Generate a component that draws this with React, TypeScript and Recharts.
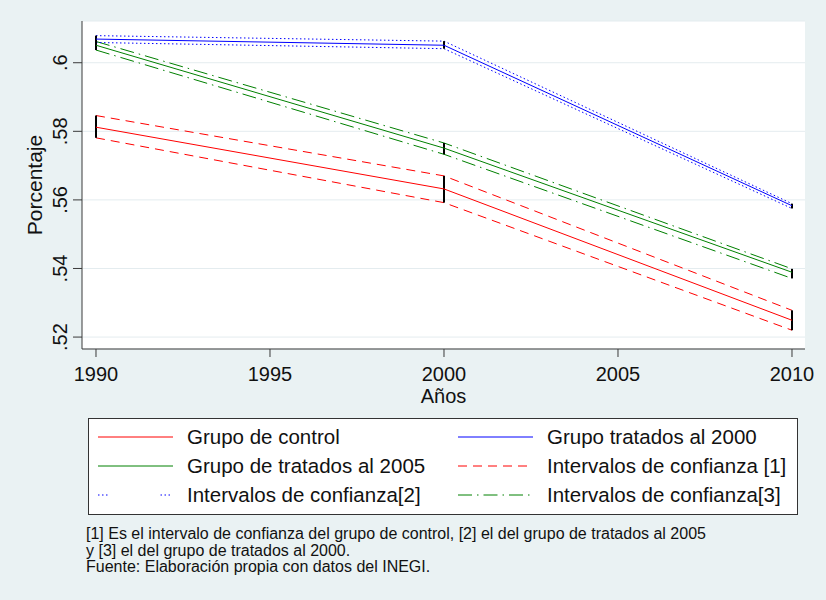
import React from "react";
import { LineChart, Line, XAxis, YAxis, CartesianGrid, ErrorBar } from "recharts";

// valores (3 puntos por serie)
const years = [1990, 2000, 2010];
const control = [0.5812, 0.5632, 0.5249];
const controlLo = [0.5781, 0.5592, 0.522];
const controlHi = [0.5846, 0.567, 0.5278];
const treated2000 = [0.6069, 0.6051, 0.5583];
const treated2000Lo = [0.6059, 0.6041, 0.5575];
const treated2000Hi = [0.6079, 0.6063, 0.5589];
const treated2005 = [0.6051, 0.5751, 0.5389];
const treated2005Lo = [0.6037, 0.5733, 0.5371];
const treated2005Hi = [0.6062, 0.5766, 0.5399];

const xTicks = [1990, 1995, 2000, 2005, 2010];
const yTicks = [0.52, 0.54, 0.56, 0.58, 0.6];

const footnote = [
  "[1] Es el intervalo de confianza del grupo de control, [2] el del grupo de tratados al 2005",
  "y [3] el del grupo de tratados al 2000.",
  "Fuente: Elaboración propia con datos del INEGI.",
];

const RED = "#ff0000";
const BLUE = "#0000ff";
const GREEN = "#008000";
const FONT = "'Liberation Sans', Arial, sans-serif";

const data = years.map((year, i) => ({
  year,
  control: control[i],
  controlLo: controlLo[i],
  controlHi: controlHi[i],
  controlErr: [control[i] - controlLo[i], controlHi[i] - control[i]],
  t2000: treated2000[i],
  t2000Lo: treated2000Lo[i],
  t2000Hi: treated2000Hi[i],
  t2000Err: [treated2000[i] - treated2000Lo[i], treated2000Hi[i] - treated2000[i]],
  t2005: treated2005[i],
  t2005Lo: treated2005Lo[i],
  t2005Hi: treated2005Hi[i],
  t2005Err: [treated2005[i] - treated2005Lo[i], treated2005Hi[i] - treated2005[i]],
}));

const legendItems = [
  { label: "Grupo de control", color: RED, dash: undefined },
  { label: "Grupo tratados al 2000", color: BLUE, dash: undefined },
  { label: "Grupo de tratados al 2005", color: GREEN, dash: undefined },
  { label: "Intervalos de confianza [1]", color: RED, dash: "9 6" },
  { label: "Intervalos de confianza[2]", color: BLUE, dash: "1.5 2.5 1.5 2.5 1.5 53" },
  { label: "Intervalos de confianza[3]", color: GREEN, dash: "14 5 1.5 5" },
];

const fmtY = (v: number) => v.toFixed(2).replace(/^0/, "").replace(/0$/, "");

const YTick = (props: any) => {
  const { x, y, payload } = props;
  const bx = x - 6;
  return (
    <text
      x={bx}
      y={y}
      transform={`rotate(-90 ${bx} ${y})`}
      textAnchor="middle"
      fontSize={20}
      fontFamily={FONT}
      fill="#111"
    >
      {fmtY(payload.value)}
    </text>
  );
};

const XTick = (props: any) => {
  const { x, y, payload } = props;
  return (
    <text x={x} y={y + 24} textAnchor="middle" fontSize={20} fontFamily={FONT} fill="#111">
      {payload.value}
    </text>
  );
};

const Legenda = () => {
  const rows = [437, 466, 495];
  const cols = [
    { lx: 98, tx: 187 },
    { lx: 458, tx: 547 },
  ];
  return (
    <g>
      <rect x={88.5} y={418.5} width={709} height={96} fill="#fff" stroke="#333" strokeWidth={1} />
      {legendItems.map((it, i) => {
        const r = rows[Math.floor(i / 2)];
        const c = cols[i % 2];
        return (
          <g key={it.label}>
            <line
              x1={c.lx}
              x2={c.lx + 75}
              y1={r}
              y2={r}
              stroke={it.color}
              strokeWidth={1}
              strokeDasharray={it.dash}
            />
            <text x={c.tx} y={r + 7} fontSize={20.5} fontFamily={FONT} fill="#111">
              {it.label}
            </text>
          </g>
        );
      })}
    </g>
  );
};

export default function App() {
  return (
    <div
      style={{
        position: "absolute",
        left: 0,
        top: 0,
        width: 826,
        height: 600,
        background: "#EAF2F3",
      }}
    >
      <div style={{ position: "absolute", left: 0, top: 0 }}>
        <LineChart
          width={826}
          height={600}
          data={data}
          margin={{ top: 21, right: 21, left: 22, bottom: 211 }}
        >
          <CartesianGrid vertical={false} stroke="#E4ECEF" fill="#ffffff" />
          <XAxis
            dataKey="year"
            type="number"
            domain={[1989.598, 2010.374]}
            ticks={xTicks}
            allowDataOverflow
            height={40}
            tickSize={8}
            tickMargin={0}
            stroke="#3a3a3a"
            tick={<XTick />}
            label={(p: any) => {
              const vb = p.viewBox;
              return (
                <text
                  x={vb.x + vb.width / 2}
                  y={vb.y + 54}
                  textAnchor="middle"
                  fontSize={20}
                  fontFamily={FONT}
                  fill="#111"
                >
                  Años
                </text>
              );
            }}
          />
          <YAxis
            type="number"
            domain={[0.51652, 0.61217]}
            ticks={yTicks}
            allowDataOverflow
            width={60}
            tickSize={9}
            tickMargin={0}
            stroke="#3a3a3a"
            tick={<YTick />}
            label={(p: any) => {
              const vb = p.viewBox;
              const lx = vb.x + 20;
              const ly = vb.y + vb.height / 2;
              return (
                <text
                  x={lx}
                  y={ly}
                  transform={`rotate(-90 ${lx} ${ly})`}
                  textAnchor="middle"
                  fontSize={21}
                  fontFamily={FONT}
                  fill="#111"
                >
                  Porcentaje
                </text>
              );
            }}
          />
          <Line dataKey="controlHi" stroke={RED} strokeWidth={1} strokeDasharray="9 6" dot={false} isAnimationActive={false} />
          <Line dataKey="controlLo" stroke={RED} strokeWidth={1} strokeDasharray="9 6" dot={false} isAnimationActive={false} />
          <Line dataKey="t2005Hi" stroke={GREEN} strokeWidth={1} strokeDasharray="14 5 1.5 5" dot={false} isAnimationActive={false} />
          <Line dataKey="t2005Lo" stroke={GREEN} strokeWidth={1} strokeDasharray="14 5 1.5 5" dot={false} isAnimationActive={false} />
          <Line dataKey="t2000Hi" stroke={BLUE} strokeWidth={1} strokeDasharray="1.5 2.5" dot={false} isAnimationActive={false} />
          <Line dataKey="t2000Lo" stroke={BLUE} strokeWidth={1} strokeDasharray="1.5 2.5" dot={false} isAnimationActive={false} />
          <Line dataKey="control" stroke={RED} strokeWidth={1} dot={false} isAnimationActive={false}>
            <ErrorBar dataKey="controlErr" direction="y" width={0} stroke="#000" strokeWidth={2} isAnimationActive={false} />
          </Line>
          <Line dataKey="t2005" stroke={GREEN} strokeWidth={1} dot={false} isAnimationActive={false}>
            <ErrorBar dataKey="t2005Err" direction="y" width={0} stroke="#000" strokeWidth={2} isAnimationActive={false} />
          </Line>
          <Line dataKey="t2000" stroke={BLUE} strokeWidth={1} dot={false} isAnimationActive={false}>
            <ErrorBar dataKey="t2000Err" direction="y" width={0} stroke="#000" strokeWidth={2} isAnimationActive={false} />
          </Line>
        </LineChart>
      </div>
      <svg
        width={826}
        height={600}
        style={{ position: "absolute", left: 0, top: 0, pointerEvents: "none" }}
      >
        <Legenda />
        {footnote.map((t, i) => (
          <text key={i} x={86} y={539 + i * 16.7} fontSize={16} fontFamily={FONT} fill="#111">
            {t}
          </text>
        ))}
      </svg>
    </div>
  );
}
